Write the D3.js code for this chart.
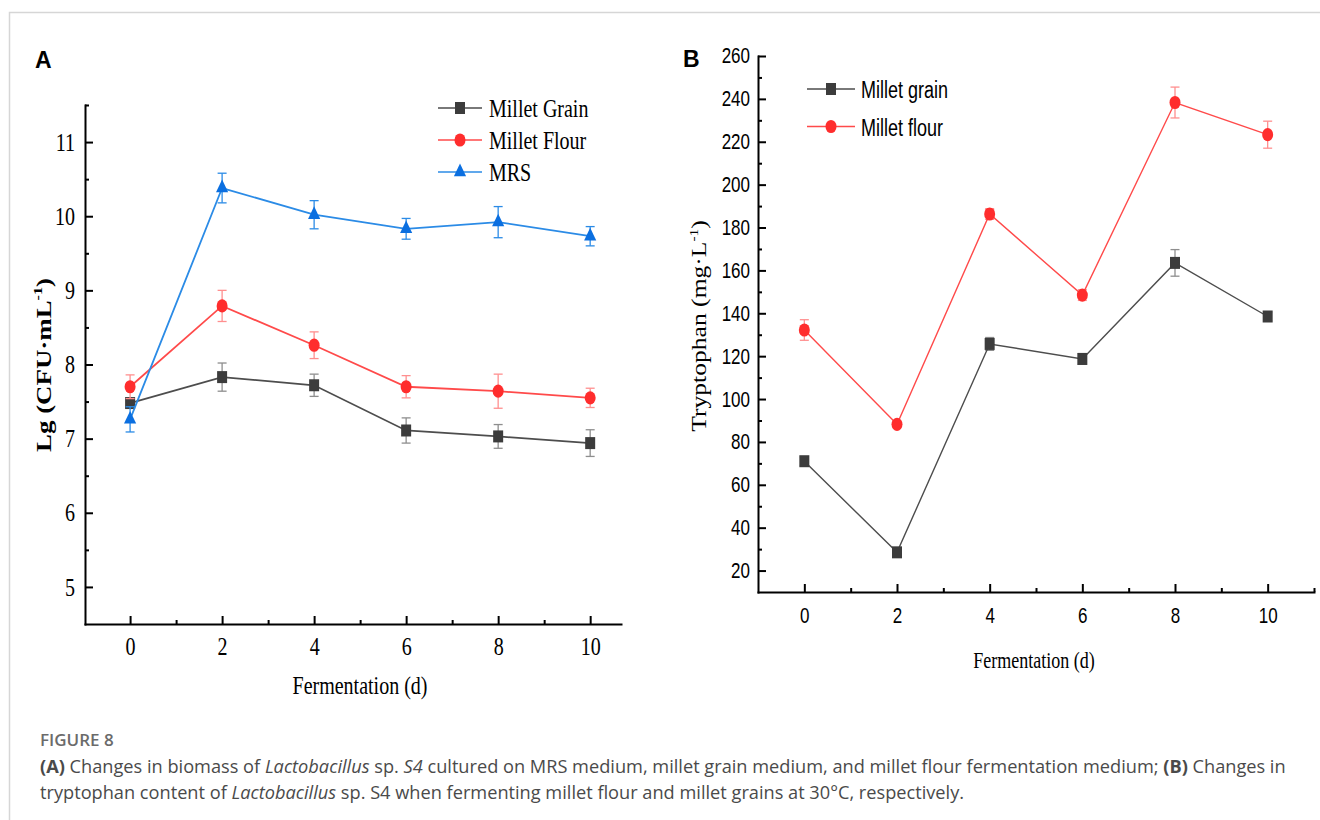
<!DOCTYPE html>
<html>
<head>
<meta charset="utf-8">
<script src="https://cdn.jsdelivr.net/npm/d3@7"></script>
<style>
  body { margin: 0; background: #fff; }
  svg { display: block; }
  .axis path, .axis line { stroke: #000; stroke-width: 2; }
  .axis path { stroke-linecap: square; }
</style>
</head>
<body>
<div id="chart"></div>
<script>
// ---- data ----
const days = [0, 2, 4, 6, 8, 10];

// (A) biomass, Lg(CFU/mL)
const grainA    = [7.48, 7.83, 7.72, 7.11, 7.03, 6.94];
const grainAErr = [0.06, 0.19, 0.15, 0.17, 0.16, 0.18];
const flourA    = [7.70, 8.79, 8.26, 7.70, 7.64, 7.55];
const flourAErr = [0.16, 0.21, 0.18, 0.15, 0.23, 0.13];
const mrsA      = [7.26, 10.38, 10.02, 9.83, 9.92, 9.73];
const mrsAErr   = [0.17, 0.20, 0.19, 0.14, 0.21, 0.13];

// (B) tryptophan, mg/L
const grainB    = [71, 28.5, 125.7, 118.7, 163.5, 138.5];
const grainBErr = [2, 2, 3, 2.5, 6.2, 2];
const flourB    = [132.2, 88.2, 186.3, 148.5, 238.3, 223.3];
const flourBErr = [4.8, 1.5, 2.5, 2.5, 7.2, 6.3];

const xTicks   = [0, 2, 4, 6, 8, 10];
const xMinorA  = [1, 3, 5, 7, 9];
const xMinorB  = [1, 3, 5, 7, 9, 11];
const yTicksA  = [5, 6, 7, 8, 9, 10, 11];
const yMinorA  = [5.5, 6.5, 7.5, 8.5, 9.5, 10.5, 11.5];
const yTicksB  = [20, 40, 60, 80, 100, 120, 140, 160, 180, 200, 220, 240, 260];
const yMinorB  = [30, 50, 70, 90, 110, 130, 150, 170, 190, 210, 230, 250];

const legendA = ["Millet Grain", "Millet Flour", "MRS"];
const legendB = ["Millet grain", "Millet flour"];

// the source figure is stretched vertically, so text is too
const K = 1.28;
const SERIF = "'Liberation Serif', 'Times New Roman', serif";
const SANS = "'Liberation Sans', Arial, sans-serif";

const styles = {
    grain: { line: "#4d4d4d", err: "#8e8e8e", fill: "#3c3c3c", sym: d3.symbolSquare, size: 100 },
    flour: { line: "#ff4a4a", err: "#ff8f8f", fill: "#ff2d2d", sym: d3.symbolCircle, size: 95 },
    mrs:   { line: "#2b8be6", err: "#2b8be6", fill: "#0b6fe0", sym: d3.symbolTriangle, size: 64 }
};

const svg = d3.select("#chart").append("svg")
    .attr("width", 1320)
    .attr("height", 820);

// page frame (left + top rule)
svg.append("path")
    .attr("d", "M9.5,820V12.5H1320")
    .attr("fill", "none")
    .attr("stroke", "#d6d6d6")
    .attr("stroke-width", 1.5);

// text stretched vertically like the source
function sText(g, x, y, str, font, size, opts = {}) {
    const t = g.append("text")
        .attr("transform", opts.rotate
            ? `translate(${x},${y}) rotate(-90) scale(${K},1)`
            : `translate(${x},${y}) scale(1,${K})`)
        .attr("font-family", font)
        .attr("font-size", size)
        .attr("font-weight", opts.weight || "normal")
        .attr("text-anchor", opts.anchor || "start")
        .attr("fill", "#000");
    if (opts.sup) {
        t.append("tspan").text(str);
        t.append("tspan").attr("font-size", size * 0.6).attr("dy", -size * 0.42).text(opts.sup);
        t.append("tspan").attr("dy", size * 0.42).text(opts.tail || "");
    } else {
        t.text(str);
    }
    return t;
}

function drawAxes(g, x, y, cfg) {
    const x0 = x.range()[0], yb = y.range()[0];

    // minor ticks, inward
    g.append("g").attr("class", "axis")
        .attr("transform", `translate(0,${yb})`)
        .call(d3.axisBottom(x).tickValues(cfg.xMinor).tickSize(-4).tickFormat(""))
        .call(a => a.select(".domain").remove());
    g.append("g").attr("class", "axis")
        .attr("transform", `translate(${x0},0)`)
        .call(d3.axisLeft(y).tickValues(cfg.yMinor).tickSize(-4).tickFormat(""))
        .call(a => a.select(".domain").remove());

    // major ticks + labels
    const xa = g.append("g").attr("class", "axis")
        .attr("transform", `translate(0,${yb})`)
        .call(d3.axisBottom(x).tickValues(xTicks).tickSize(-8).tickSizeOuter(0)
            .tickPadding(cfg.xPad).tickFormat(d3.format("d")));
    xa.attr("font-family", cfg.tickFont).attr("font-size", cfg.tickSize);
    xa.selectAll("text")
        .attr("y", cfg.xPad / K)
        .attr("transform", `scale(1,${K})`);

    const ya = g.append("g").attr("class", "axis")
        .attr("transform", `translate(${x0},0)`)
        .call(d3.axisLeft(y).tickValues(cfg.yTicks).tickSize(-8).tickSizeOuter(0)
            .tickPadding(cfg.yPad).tickFormat(d3.format("d")));
    ya.attr("font-family", cfg.tickFont).attr("font-size", cfg.tickSize);
    ya.selectAll("text").attr("transform", `scale(1,${K})`);
}

function drawSeries(g, x, y, vals, errs, st, lw) {
    const pts = days.map((d, i) => ({ d: d, v: vals[i], e: errs[i] }));
    const s = g.append("g");

    // error bars
    const eb = s.append("g").attr("stroke", st.err).attr("stroke-width", 1.3);
    eb.selectAll(".bar").data(pts).join("line")
        .attr("x1", p => x(p.d)).attr("x2", p => x(p.d))
        .attr("y1", p => y(p.v - p.e)).attr("y2", p => y(p.v + p.e));
    eb.selectAll(".capTop").data(pts).join("line")
        .attr("x1", p => x(p.d) - 4.5).attr("x2", p => x(p.d) + 4.5)
        .attr("y1", p => y(p.v + p.e)).attr("y2", p => y(p.v + p.e));
    eb.selectAll(".capBot").data(pts).join("line")
        .attr("x1", p => x(p.d) - 4.5).attr("x2", p => x(p.d) + 4.5)
        .attr("y1", p => y(p.v - p.e)).attr("y2", p => y(p.v - p.e));

    s.append("path").datum(pts)
        .attr("d", d3.line().x(p => x(p.d)).y(p => y(p.v)))
        .attr("fill", "none")
        .attr("stroke", st.line)
        .attr("stroke-width", lw);

    s.selectAll(".mark").data(pts).join("path")
        .attr("transform", p => `translate(${x(p.d)},${y(p.v)}) scale(1,1.2)`)
        .attr("d", d3.symbol(st.sym, st.size)())
        .attr("fill", st.fill);
}

function drawLegend(g, items, sts, cfg) {
    items.forEach((name, i) => {
        const st = sts[i];
        const ry = cfg.y0 + i * cfg.dy;
        g.append("line")
            .attr("x1", cfg.x0).attr("x2", cfg.x1)
            .attr("y1", ry).attr("y2", ry)
            .attr("stroke", st.line).attr("stroke-width", 1.6);
        g.append("path")
            .attr("transform", `translate(${(cfg.x0 + cfg.x1) / 2},${ry}) scale(1,1.2)`)
            .attr("d", d3.symbol(st.sym, st.size)())
            .attr("fill", st.fill);
        sText(g, cfg.tx, ry + cfg.base, name, cfg.font, cfg.size);
    });
}

// ---------------- Panel A ----------------
const gA = svg.append("g");
const xA = d3.scaleLinear().domain([-0.98, 10.67]).range([85, 621]);
const yA = d3.scaleLinear().domain([4.5, 11.5]).range([624, 105]);

drawAxes(gA, xA, yA, {
    xMinor: xMinorA, yMinor: yMinorA, yTicks: yTicksA,
    tickFont: SERIF, tickSize: 20, xPad: 13, yPad: 10
});
drawSeries(gA, xA, yA, grainA, grainAErr, styles.grain, 1.8);
drawSeries(gA, xA, yA, flourA, flourAErr, styles.flour, 1.8);
drawSeries(gA, xA, yA, mrsA, mrsAErr, styles.mrs, 1.8);

drawLegend(gA, legendA, [styles.grain, styles.flour, styles.mrs], {
    x0: 438, x1: 482, tx: 489, y0: 108, dy: 32, base: 8.5, font: SERIF, size: 20
});

sText(gA, 360, 694, "Fermentation (d)", SERIF, 20, { anchor: "middle" });
sText(gA, 51, 365, "Lg (CFU·mL", SERIF, 21, { rotate: true, anchor: "middle", weight: "bold", sup: "-1", tail: ")" });

svg.append("text")
    .attr("x", 35).attr("y", 68)
    .attr("font-family", SANS).attr("font-size", 23).attr("font-weight", "bold")
    .text("A");

// ---------------- Panel B ----------------
const gB = svg.append("g");
const xB = d3.scaleLinear().domain([-1, 11]).range([758, 1314]);
const yB = d3.scaleLinear().domain([10, 260]).range([592, 56]);

drawAxes(gB, xB, yB, {
    xMinor: xMinorB, yMinor: yMinorB, yTicks: yTicksB,
    tickFont: SANS, tickSize: 17, xPad: 16, yPad: 8
});
drawSeries(gB, xB, yB, grainB, grainBErr, styles.grain, 1.4);
drawSeries(gB, xB, yB, flourB, flourBErr, styles.flour, 1.4);

drawLegend(gB, legendB, [styles.grain, styles.flour], {
    x0: 807, x1: 855, tx: 861, y0: 89, dy: 37.5, base: 9, font: SANS, size: 18
});

sText(gB, 1034, 668, "Fermentation (d)", SERIF, 18, { anchor: "middle" });
sText(gB, 706, 326, "Tryptophan (mg·L", SERIF, 20, { rotate: true, anchor: "middle", sup: "-1", tail: ")" });

svg.append("text")
    .attr("x", 683).attr("y", 67)
    .attr("font-family", SANS).attr("font-size", 23).attr("font-weight", "bold")
    .text("B");

// ---------------- caption ----------------
const CAP = "'Open Sans', 'Noto Sans', sans-serif";
svg.append("text")
    .attr("x", 40).attr("y", 746)
    .attr("font-family", CAP).attr("font-size", 17).attr("font-weight", 600)
    .attr("fill", "#6b6b6b")
    .text("FIGURE 8");

function captionLine(y, parts) {
    const t = svg.append("text")
        .attr("x", 40).attr("y", y)
        .attr("font-family", CAP).attr("font-size", 18.2)
        .attr("fill", "#4a4a4a");
    parts.forEach(p => {
        t.append("tspan")
            .attr("font-weight", p[1] === "b" ? 700 : 400)
            .attr("font-style", p[1] === "i" ? "italic" : "normal")
            .text(p[0]);
    });
}
captionLine(773, [
    ["(A)", "b"], [" Changes in biomass of "], ["Lactobacillus", "i"], [" sp. "], ["S4", "i"],
    [" cultured on MRS medium, millet grain medium, and millet flour fermentation medium; "],
    ["(B)", "b"], [" Changes in"]
]);
captionLine(799, [
    ["tryptophan content of "], ["Lactobacillus", "i"],
    [" sp. S4 when fermenting millet flour and millet grains at 30°C, respectively."]
]);
</script>
</body>
</html>
